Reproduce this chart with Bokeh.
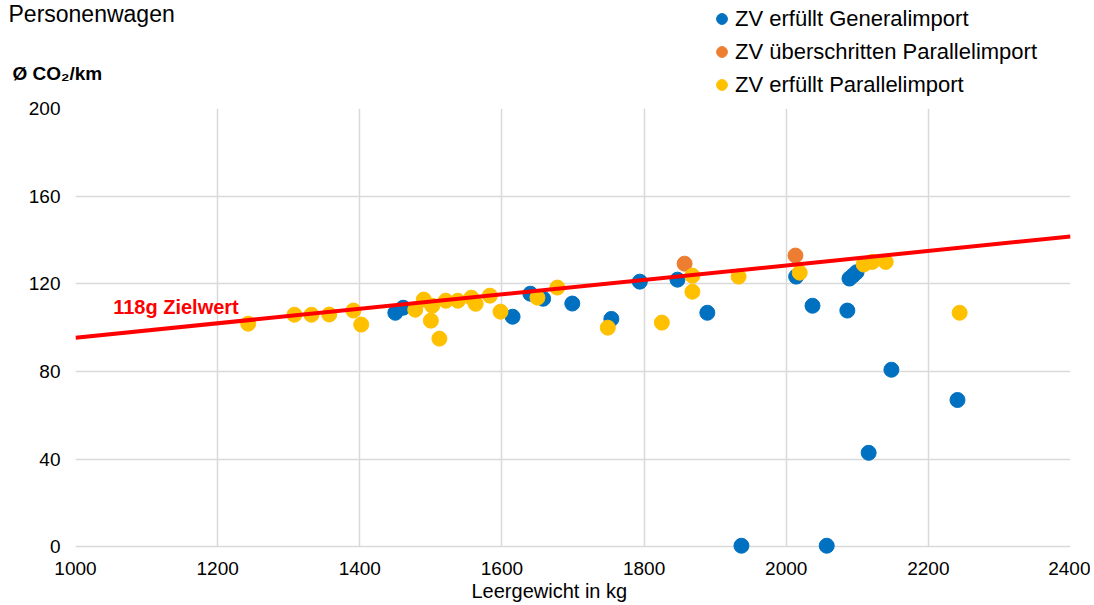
from bokeh.plotting import figure
from bokeh.models import Label, Legend, LegendItem, FixedTicker, Range1d, Title
from bokeh.embed import file_html
from bokeh.resources import INLINE

# ---- data ----
general_kg = [1450, 1461, 1615, 1640, 1658, 1699, 1754, 1794, 1847, 1889,
              2014, 2037, 2086, 2089, 2094, 2099, 2148, 2241, 2116, 1937, 2057]
general_co2 = [106.8, 109.1, 105.0, 115.5, 113.2, 111.0, 104.0, 121.0, 121.9, 106.8,
               123.3, 110.0, 107.8, 122.4, 123.8, 125.3, 80.8, 67.0, 42.9, 0.5, 0.5]

over_kg = [1857, 2013]
over_co2 = [129.2, 132.9]

parallel_kg = [1243, 1308, 1332, 1357, 1391, 1402, 1478, 1490, 1502, 1500,
               1512, 1521, 1538, 1557, 1563, 1583, 1598, 1650, 1678, 1749,
               1825, 1868, 1868, 1933, 2019, 2109, 2121, 2140, 2244]
parallel_co2 = [101.8, 105.9, 105.9, 106.0, 107.8, 101.4, 108.2, 112.8, 110.0, 103.2,
                95.0, 112.3, 112.3, 113.7, 110.9, 114.6, 107.3, 113.7, 118.3, 100.0,
                102.3, 123.7, 116.4, 123.3, 125.1, 128.8, 130.0, 130.0, 106.8]

target_kg = [1000, 2400]
target_co2 = [95.4, 141.6]

x_ticks = [1000, 1200, 1400, 1600, 1800, 2000, 2200, 2400]
y_ticks = [0, 40, 80, 120, 160, 200]

series_labels = ["ZV erfüllt Generalimport", "ZV überschritten Parallelimport",
                 "ZV erfüllt Parallelimport"]

FONT = "Liberation Sans"
BLUE = "#0070C0"
ORANGE = "#ED7D31"
YELLOW = "#FFC000"
W = 1090
HEAD_H = 96

# ---- header (title, unit, legend) : separate root, frame = whole canvas ----
h = figure(width=W, height=HEAD_H, output_backend="svg", toolbar_location=None,
           x_range=Range1d(0, 1), y_range=Range1d(0, 1),
           x_axis_location=None, y_axis_location=None, min_border=0)
h.outline_line_color = None
h.grid.visible = False
h.title.visible = False

# series drawn off the header's ranges: only their legend glyphs show
lg_gen = h.scatter(general_kg, general_co2, size=15, color=BLUE)
lg_over = h.scatter(over_kg, over_co2, size=15, color=ORANGE)
lg_par = h.scatter(parallel_kg, parallel_co2, size=15, color=YELLOW)

legend = Legend(items=[
    LegendItem(label=series_labels[0], renderers=[lg_gen]),
    LegendItem(label=series_labels[1], renderers=[lg_over]),
    LegendItem(label=series_labels[2], renderers=[lg_par]),
], location=(708, -2))
legend.background_fill_alpha = 0
legend.border_line_color = None
legend.padding = 0
legend.margin = 0
legend.spacing = 6
legend.label_height = 22
legend.glyph_height = 27
legend.glyph_width = 27
legend.label_standoff = 0
legend.label_text_font = FONT
legend.label_text_font_size = "22px"
legend.label_text_color = "#000000"
h.add_layout(legend, "center")

h.add_layout(Label(x=8, y=HEAD_H - 13, x_units="screen", y_units="screen",
                   text="Personenwagen", text_font=FONT, text_font_size="23px",
                   text_baseline="middle", text_color="#000000"))
h.add_layout(Label(x=12, y=HEAD_H - 73, x_units="screen", y_units="screen",
                   text="Ø CO₂/km", text_font=FONT, text_font_size="19px",
                   text_font_style="bold", text_baseline="middle", text_color="#000000"))

# ---- main chart ----
p = figure(width=W, height=508, output_backend="svg", toolbar_location=None,
           x_range=Range1d(1000, 2400), y_range=Range1d(-3.5, 200),
           min_border_left=75, min_border_right=20, min_border_top=12,
           min_border_bottom=50)
p.title.visible = False
p.outline_line_color = None
p.background_fill_color = "white"

for ax in (p.xaxis[0], p.yaxis[0]):
    ax.axis_line_color = None
    ax.major_tick_line_color = None
    ax.minor_tick_line_color = None
    ax.major_tick_out = 0
    ax.major_tick_in = 0
    ax.major_label_text_font = FONT
    ax.major_label_text_font_size = "19px"
    ax.major_label_text_color = "#000000"

p.xaxis[0].ticker = FixedTicker(ticks=x_ticks)
p.yaxis[0].ticker = FixedTicker(ticks=y_ticks)
p.xaxis[0].major_label_standoff = 7
p.yaxis[0].major_label_standoff = 15

# x axis title, a little left of the frame centre as in the original
p.add_layout(Title(text="Leergewicht in kg", align="left", offset=396, standoff=0,
                   text_font=FONT, text_font_size="20px", text_font_style="normal",
                   text_color="#000000"), "below")

for g in (p.xgrid[0], p.ygrid[0]):
    g.grid_line_color = "#D9D9D9"
    g.grid_line_width = 1.5
p.xgrid[0].ticker = FixedTicker(ticks=x_ticks)
p.ygrid[0].ticker = FixedTicker(ticks=y_ticks)
try:
    p.xgrid[0].cross_bounds = (0, 200)
except Exception:
    pass

p.scatter(general_kg, general_co2, size=15, color=BLUE, line_color=BLUE)
p.scatter(over_kg, over_co2, size=15, color=ORANGE, line_color=ORANGE)
p.scatter(parallel_kg, parallel_co2, size=15, color=YELLOW, line_color=YELLOW)
p.line(target_kg, target_co2, line_color="#FF0000", line_width=4)

p.add_layout(Label(x=1053, y=109.6, text="118g Zielwert", text_font=FONT,
                   text_font_size="20px", text_font_style="bold",
                   text_baseline="middle", text_color="#FF0000"))

open("out.html", "w").write(file_html([h, p], INLINE))
